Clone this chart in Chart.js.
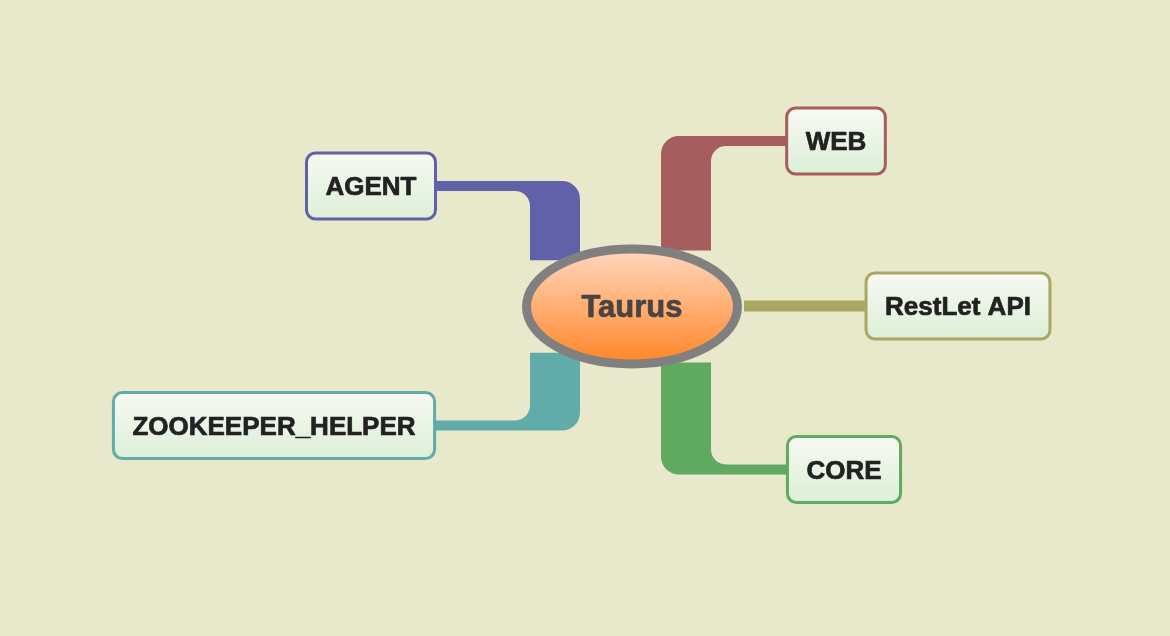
<!DOCTYPE html>
<html>
<head>
<meta charset="utf-8">
<title>Taurus</title>
<script src="https://cdn.jsdelivr.net/npm/chart.js@4/dist/chart.umd.min.js"></script>
<style>
  html, body { margin: 0; padding: 0; background: #e8e8ca; }
  #wrap { width: 1170px; height: 636px; }
</style>
</head>
<body>
<div id="wrap"><canvas id="map"></canvas></div>
<script>
// mind map data: root topic + child topics (centre positions in map units)
const rootLabel = 'Taurus'
const rootX = 632
const rootY = 306.5
const topics = ['WEB', 'AGENT', 'ZOOKEEPER_HELPER', 'RestLet API', 'CORE']
const topicX = [836, 371, 274, 958, 844]
const topicY = [141, 186, 425.5, 306, 469.5]

// styles
const branchColors = ['#a65d5d', '#6161a9', '#62abab', '#a9a862', '#60a960']
const BG = '#e8e8ca'
const FONT = '"Liberation Sans", Arial, Helvetica, sans-serif'
const ELL_RX = 110, ELL_RY = 62, ELL_LINE = 9
const BOX_H = 66, BOX_PAD = 19, BOX_R = 9, BOX_LINE = 3
const TRUNK_W = 50, LINE_W = 10, OUTER_R = 18, INNER_R = 15

function ellipseEdgeY(dx) {
  const k = Math.max(0, 1 - (dx / ELL_RX) * (dx / ELL_RX))
  return ELL_RY * Math.sqrt(k)
}

function drawBranch(ctx, cx, cy, nx, ny, color) {
  ctx.save()
  ctx.fillStyle = color
  const sx = nx > cx ? 1 : -1
  if (Math.abs(ny - cy) < 20) {
    // straight branch
    const x0 = cx + sx * (ELL_RX + 2)
    ctx.beginPath()
    ctx.rect(Math.min(x0, nx), ny - LINE_W / 2 - 0.5, Math.abs(nx - x0), LINE_W + 1)
    ctx.fill()
    ctx.restore()
    return
  }
  const sy = ny > cy ? 1 : -1
  const tx = cx + (sx > 0 ? 54 : -77)
  const outerX = tx - sx * TRUNK_W / 2
  const innerX = tx + sx * TRUNK_W / 2
  const outerY = ny + sy * LINE_W / 2
  const innerY = ny - sy * LINE_W / 2
  const yb = cy + sy * (ellipseEdgeY(tx - cx) + 2)
  ctx.beginPath()
  ctx.moveTo(outerX, yb)
  ctx.lineTo(outerX, outerY - sy * OUTER_R)
  ctx.arcTo(outerX, outerY, outerX + sx * OUTER_R, outerY, OUTER_R)
  ctx.lineTo(nx, outerY)
  ctx.lineTo(nx, innerY)
  ctx.lineTo(innerX + sx * INNER_R, innerY)
  ctx.arcTo(innerX, innerY, innerX, innerY - sy * INNER_R, INNER_R)
  ctx.lineTo(innerX, yb)
  ctx.closePath()
  ctx.fill()
  ctx.restore()
}

function roundRect(ctx, x, y, w, h, r) {
  ctx.beginPath()
  ctx.moveTo(x + r, y)
  ctx.arcTo(x + w, y, x + w, y + h, r)
  ctx.arcTo(x + w, y + h, x, y + h, r)
  ctx.arcTo(x, y + h, x, y, r)
  ctx.arcTo(x, y, x + w, y, r)
  ctx.closePath()
}

function boldText(ctx, label, x, y, color) {
  ctx.fillStyle = color
  ctx.strokeStyle = color
  ctx.lineWidth = 0.7
  ctx.lineJoin = 'round'
  ctx.textAlign = 'center'
  ctx.textBaseline = 'middle'
  ctx.fillText(label, x, y)
  ctx.strokeText(label, x, y)
}

function drawTopic(ctx, label, x, y, color) {
  ctx.save()
  ctx.font = 'bold 26px ' + FONT
  const w = ctx.measureText(label).width + BOX_PAD * 2
  const left = x - w / 2, top = y - BOX_H / 2
  const g = ctx.createLinearGradient(0, top, 0, top + BOX_H)
  g.addColorStop(0, '#f7f9f3')
  g.addColorStop(1, '#dcefd7')
  roundRect(ctx, left, top, w, BOX_H, BOX_R)
  ctx.fillStyle = g
  ctx.fill()
  ctx.lineWidth = BOX_LINE
  ctx.strokeStyle = color
  ctx.stroke()
  boldText(ctx, label, x, y + 2, '#222222')
  ctx.restore()
}

function drawRoot(ctx, label, x, y) {
  ctx.save()
  const rx = ELL_RX - ELL_LINE / 2, ry = ELL_RY - ELL_LINE / 2
  const g = ctx.createLinearGradient(0, y - ry, 0, y + ry)
  g.addColorStop(0, '#ffd7bf')
  g.addColorStop(0.55, '#ffab6c')
  g.addColorStop(1, '#ff8526')
  ctx.beginPath()
  ctx.ellipse(x, y, rx, ry, 0, 0, Math.PI * 2)
  ctx.fillStyle = g
  ctx.fill()
  ctx.lineWidth = ELL_LINE
  ctx.strokeStyle = '#808080'
  ctx.stroke()
  ctx.font = 'bold 31px ' + FONT
  boldText(ctx, label, x, y + 2, '#4a4442')
  ctx.restore()
}

const mindMapPlugin = {
  id: 'mindmap',
  beforeDraw(chart) {
    const ctx = chart.ctx
    ctx.save()
    ctx.fillStyle = BG
    ctx.fillRect(0, 0, chart.width, chart.height)
    ctx.restore()
  },
  beforeDatasetsDraw(chart) {
    const ctx = chart.ctx
    const root = chart.getDatasetMeta(0).data[0]
    chart.getDatasetMeta(1).data.forEach((pt, i) => drawBranch(ctx, root.x, root.y, pt.x, pt.y, branchColors[i]))
  },
  afterDatasetsDraw(chart) {
    const ctx = chart.ctx
    const root = chart.getDatasetMeta(0).data[0]
    drawRoot(ctx, rootLabel, root.x, root.y)
    chart.getDatasetMeta(1).data.forEach((pt, i) => drawTopic(ctx, topics[i], pt.x, pt.y, branchColors[i]))
  }
}

new Chart(document.getElementById('map'), {
  type: 'scatter',
  data: {
    datasets: [
      { label: rootLabel, data: [{ x: rootX, y: rootY }], pointRadius: 0 },
      { label: 'topics', data: topics.map((t, i) => ({ x: topicX[i], y: topicY[i] })), pointRadius: 0 }
    ]
  },
  options: {
    responsive: true,
    maintainAspectRatio: false,
    animation: false,
    events: [],
    layout: { padding: 0 },
    plugins: { legend: { display: false }, tooltip: { enabled: false } },
    scales: {
      x: { type: 'linear', display: false, min: 0, max: 1170 },
      y: { type: 'linear', display: false, min: 0, max: 636, reverse: true }
    }
  },
  plugins: [mindMapPlugin]
})
</script>
</body>
</html>
